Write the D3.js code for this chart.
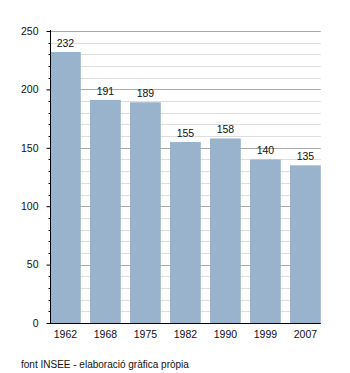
<!DOCTYPE html>
<html>
<head>
<meta charset="utf-8">
<script src="https://cdn.jsdelivr.net/npm/d3@7/dist/d3.min.js"></script>
<style>
  html, body { margin: 0; padding: 0; background: #fff; }
  svg { display: block; font-family: "Liberation Sans", Arial, sans-serif; }
</style>
</head>
<body>
<svg id="chart" width="350" height="373"></svg>
<script>
// Population by census year
const years = ["1962", "1968", "1975", "1982", "1990", "1999", "2007"];
const population = [232, 191, 189, 155, 158, 140, 135];
const yMajorTicks = [0, 50, 100, 150, 200, 250];
const sourceNote = "font INSEE - elaboració gràfica pròpia";

const svg = d3.select("#chart");
const plotLeft = 50, plotRight = 320.8, plotTop = 31, plotBottom = 323;

const x = d3.scaleBand().domain(years).range([plotLeft, plotRight])
  .paddingInner(0.23).paddingOuter(0);
const y = d3.scaleLinear().domain([0, 250]).range([plotBottom, plotTop]);

const minorTicks = d3.range(0, 251, 10).filter(v => v % 50 !== 0);

// grid lines
svg.append("g").selectAll("line").data(minorTicks).join("line")
  .attr("x1", plotLeft).attr("x2", plotRight)
  .attr("y1", d => Math.round(y(d)) + 0.5).attr("y2", d => Math.round(y(d)) + 0.5)
  .attr("stroke", "#dedede").attr("stroke-width", 1);
svg.append("g").selectAll("line").data(yMajorTicks.filter(d => d > 0)).join("line")
  .attr("x1", plotLeft).attr("x2", plotRight)
  .attr("y1", d => Math.round(y(d)) + 0.5).attr("y2", d => Math.round(y(d)) + 0.5)
  .attr("stroke", "#aaaaaa").attr("stroke-width", 1);

// bars
svg.append("g").selectAll("rect").data(population).join("rect")
  .attr("x", (d, i) => x(years[i]))
  .attr("width", x.bandwidth())
  .attr("y", d => y(d))
  .attr("height", d => y(0) - y(d))
  .attr("fill", "#9ab3cc");

// value labels
svg.append("g").selectAll("text").data(population).join("text")
  .attr("x", (d, i) => x(years[i]) + x.bandwidth() / 2)
  .attr("y", d => y(d) - 5)
  .attr("text-anchor", "middle")
  .attr("font-size", 10.5)
  .attr("fill", "#111")
  .text(d => d);

// y axis with major and minor ticks
const yAxis = svg.append("g").attr("transform", `translate(${plotLeft + 0.5},0)`);
yAxis.call(d3.axisLeft(y).tickValues(yMajorTicks).tickSize(4).tickPadding(8))
  .call(g => g.select(".domain").remove())
  .call(g => g.selectAll("line").attr("stroke", "#000"))
  .call(g => g.selectAll("text").attr("font-size", 10.5).attr("fill", "#111")
    .attr("font-family", "Liberation Sans, Arial, sans-serif"));
yAxis.append("g").selectAll("line").data(minorTicks).join("line")
  .attr("x1", -2).attr("x2", 0)
  .attr("y1", d => Math.round(y(d)) + 0.5).attr("y2", d => Math.round(y(d)) + 0.5)
  .attr("stroke", "#000");
yAxis.append("line").attr("x1", 0).attr("x2", 0)
  .attr("y1", plotTop - 1).attr("y2", plotBottom + 0.5).attr("stroke", "#000");

// x axis
const xAxis = svg.append("g").attr("transform", `translate(0,${plotBottom + 0.5})`);
xAxis.call(d3.axisBottom(x).tickSize(0).tickPadding(7))
  .call(g => g.select(".domain").remove())
  .call(g => g.selectAll("text").attr("font-size", 10.5).attr("fill", "#111")
    .attr("font-family", "Liberation Sans, Arial, sans-serif"));
xAxis.append("line").attr("x1", plotLeft).attr("x2", plotRight).attr("y1", 0).attr("y2", 0)
  .attr("stroke", "#000");

// source note
svg.append("text").attr("x", 21).attr("y", 368)
  .attr("font-size", 10).attr("fill", "#111")
  .text(sourceNote);
</script>
</body>
</html>
